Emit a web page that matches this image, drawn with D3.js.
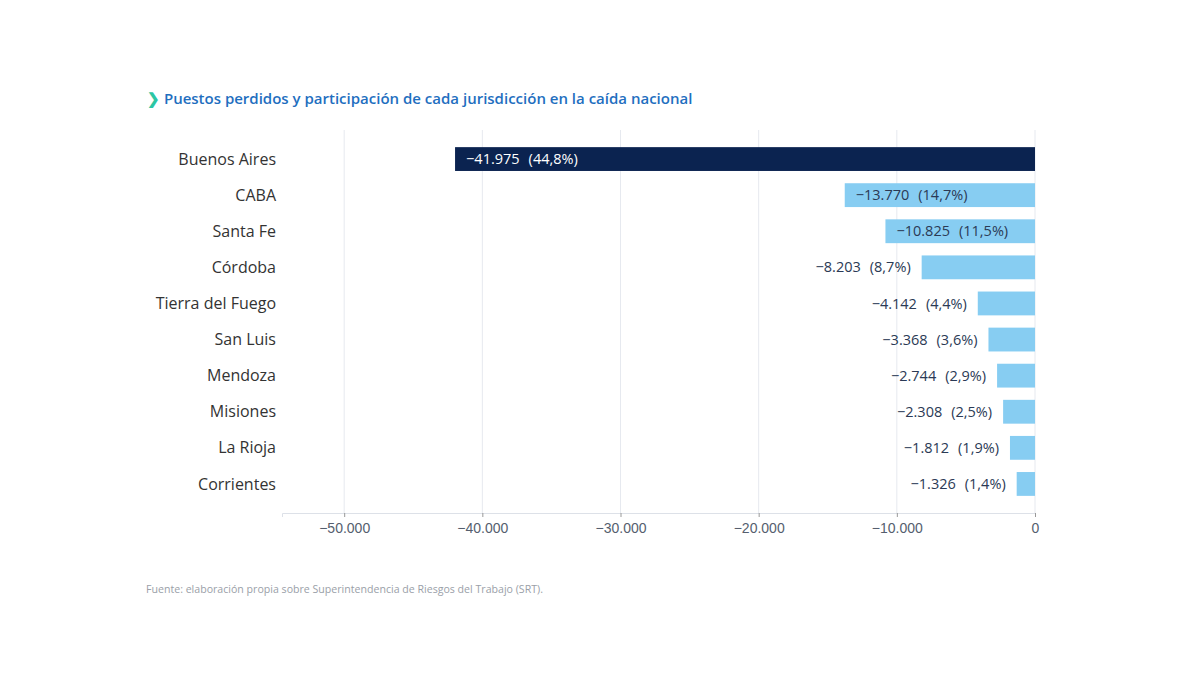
<!DOCTYPE html>
<html>
<head>
<meta charset="utf-8">
<script src="https://cdn.jsdelivr.net/npm/d3@7.9.0/dist/d3.min.js"></script>
<style>
  body { margin: 0; background: #fff; }
  svg { display: block; font-family: "Open Sans", "Noto Sans", sans-serif; }
</style>
</head>
<body>
<svg id="chart" width="1200" height="675"></svg>
<script>
// data
const provincias = ["Buenos Aires", "CABA", "Santa Fe", "Córdoba", "Tierra del Fuego",
  "San Luis", "Mendoza", "Misiones", "La Rioja", "Corrientes"];
const puestos = [-41975, -13770, -10825, -8203, -4142, -3368, -2744, -2308, -1812, -1326];
const participacion = ["44,8%", "14,7%", "11,5%", "8,7%", "4,4%", "3,6%", "2,9%", "2,5%", "1,9%", "1,4%"];
const ticks = [-50000, -40000, -30000, -20000, -10000, 0];

const svg = d3.select("#chart");

const x = d3.scaleLinear().domain([-54500, 0]).range([282, 1035]);
const y = d3.scaleBand().domain(provincias).range([141, 502]).paddingInner(0.34).paddingOuter(0.17);

const fmt = v => (v < 0 ? "\u2212" : "") + d3.format(",")(Math.abs(v)).replace(/,/g, ".");

// title
const title = svg.append("text").attr("x", 147).attr("y", 104)
  .style("font-size", "15px").style("font-weight", 600);
title.append("tspan").attr("fill", "#2cc6a3").text("\u276F ");
title.append("tspan").attr("fill", "#1f6fbf").text("Puestos perdidos y participación de cada jurisdicción en la caída nacional");

// grid
svg.append("g").selectAll("line").data(ticks).join("line")
  .attr("x1", d => x(d)).attr("x2", d => x(d))
  .attr("y1", 130).attr("y2", 513)
  .attr("stroke", "#e6e9ef").attr("stroke-width", 1);

// x axis
const xAxis = svg.append("g").attr("transform", "translate(0,513)")
  .call(d3.axisBottom(x).tickValues(ticks).tickFormat(fmt).tickSize(4).tickPadding(6));
xAxis.select(".domain").attr("stroke", "#dde1e8");
xAxis.selectAll(".tick line").attr("stroke", "#999");
xAxis.selectAll("text").attr("fill", "#555e6e").style("font-size", "14px");

// category labels
svg.append("g").selectAll("text").data(provincias).join("text")
  .attr("x", 276).attr("y", d => y(d) + y.bandwidth() / 2)
  .attr("dy", "0.35em").attr("text-anchor", "end")
  .attr("fill", "#333").style("font-size", "16px")
  .text(d => d);

// bars
const rows = provincias.map((p, i) => ({ p, v: puestos[i], pct: participacion[i], i }));
svg.append("g").selectAll("rect").data(rows).join("rect")
  .attr("x", d => x(d.v)).attr("width", d => x(0) - x(d.v))
  .attr("y", d => y(d.p)).attr("height", y.bandwidth())
  .attr("fill", d => d.i === 0 ? "#0b2350" : "#87cdf2");

// value labels: inside the bar when it is wide enough, else to its left
const labels = svg.append("g").selectAll("text").data(rows).join("text")
  .attr("y", d => y(d.p) + y.bandwidth() / 2).attr("dy", "0.35em")
  .style("font-size", "14.5px");
labels.append("tspan").text(d => fmt(d.v));
labels.append("tspan").attr("dx", 9).text(d => "(" + d.pct + ")");

labels.each(function (d) {
  const barW = x(0) - x(d.v);
  const t = d3.select(this);
  if (barW > 130) {
    t.attr("x", x(d.v) + 11).attr("text-anchor", "start")
      .attr("fill", d.i === 0 ? "#fff" : "#2b3a55");
  } else {
    t.attr("x", x(d.v) - 11).attr("text-anchor", "end").attr("fill", "#2b3a55");
  }
});

// source
svg.append("text").attr("x", 146).attr("y", 593)
  .attr("fill", "#9aa0a8").style("font-size", "10.6px")
  .text("Fuente: elaboración propia sobre Superintendencia de Riesgos del Trabajo (SRT).");
</script>
</body>
</html>
